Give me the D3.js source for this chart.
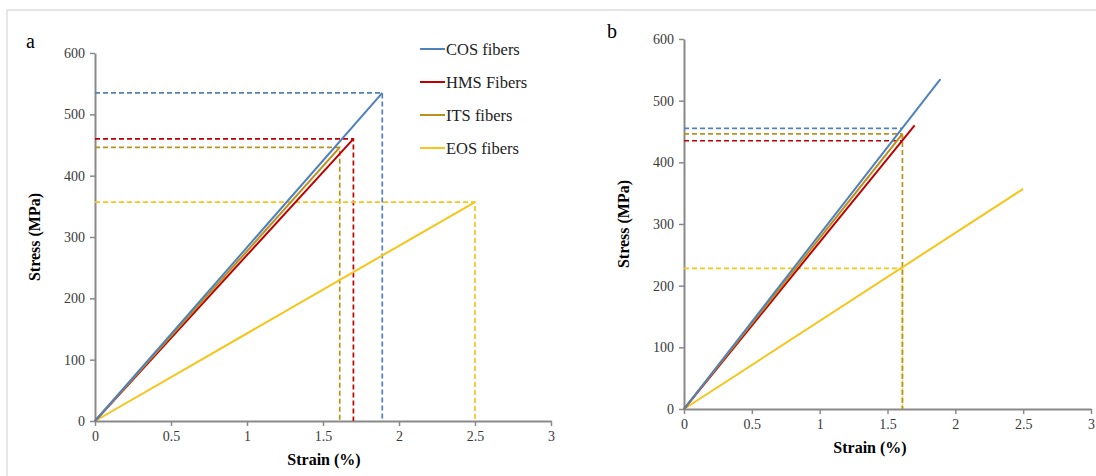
<!DOCTYPE html>
<html>
<head>
<meta charset="utf-8">
<script src="https://cdn.jsdelivr.net/npm/d3@7"></script>
<style>
    body { margin: 0; background: #fff; }
    svg text { font-family: "Liberation Serif", "Times New Roman", serif !important; }
</style>
</head>
<body>
<svg width="1096" height="476"></svg>
<script>
// data
const seriesNames = ['COS fibers', 'HMS Fibers', 'ITS fibers', 'EOS fibers'];
const failStrain = [1.89, 1.70, 1.61, 2.50];
const failStress = [535, 460, 446, 357];
const refStrainB = 1.61;
const refStressB = [455, 435, 446, 228];
const xTicks = [0, 0.5, 1, 1.5, 2, 2.5, 3];
const yTicks = [0, 100, 200, 300, 400, 500, 600];

const colors = ['#4f81bd', '#c00000', '#b8901c', '#f5c518'];
const AXIS = '#898989';
const FONT = '"Liberation Serif", "Times New Roman", serif';

const svg = d3.select('svg');
svg.append('rect').attr('width', 1096).attr('height', 476).attr('fill', '#fff');
// faint frame of the source image
svg.append('path').attr('d', 'M7,476V10H1096').attr('fill', 'none')
    .attr('stroke', '#e6e6e6').attr('stroke-width', 2);

const drawPanel = (opts) => {
    const { left, right, top, bottom, letter, letterX, letterY, xTitleX, yTitleX } = opts;
    const x = d3.scaleLinear().domain([0, 3]).range([left, right]);
    const y = d3.scaleLinear().domain([0, 600]).range([bottom, top]);
    const g = svg.append('g').attr('font-family', FONT);

    const xAxis = g.append('g').attr('transform', `translate(0,${bottom})`)
        .call(d3.axisBottom(x).tickValues(xTicks).tickSize(5).tickSizeOuter(0).tickFormat(d3.format('')));
    const yAxis = g.append('g').attr('transform', `translate(${left},0)`)
        .call(d3.axisLeft(y).tickValues(yTicks).tickSize(5).tickSizeOuter(0));
    [xAxis, yAxis].forEach(a => {
        a.attr('font-family', FONT).attr('font-size', 14);
        a.select('.domain').attr('stroke', AXIS).attr('stroke-width', 2);
        a.selectAll('.tick line').attr('stroke', AXIS).attr('stroke-width', 1.5);
        a.selectAll('.tick text').attr('fill', '#3a3a3a');
    });
    xAxis.selectAll('.tick text').attr('dy', '0.71em').attr('y', 10);
    yAxis.selectAll('.tick text').attr('x', -10);

    g.append('text').attr('x', xTitleX).attr('y', bottom + 44)
        .attr('text-anchor', 'middle').attr('font-weight', 'bold').attr('font-size', 16)
        .text('Strain (%)');
    g.append('text').attr('transform', `translate(${yTitleX},${(top + bottom) / 2}) rotate(-90)`)
        .attr('text-anchor', 'middle').attr('font-weight', 'bold').attr('font-size', 16)
        .text('Stress (MPa)');
    g.append('text').attr('x', letterX).attr('y', letterY).attr('font-size', 20).text(letter);

    return { g, x, y };
};

const dashed = (g, color, pts, x, y) => {
    g.append('path')
        .attr('d', d3.line().x(d => x(d[0])).y(d => y(d[1]))(pts))
        .attr('fill', 'none').attr('stroke', color).attr('stroke-width', 1.7)
        .attr('stroke-dasharray', '5,3');
};

const curve = (g, i, x, y) => {
    g.append('path')
        .attr('d', d3.line().x(d => x(d[0])).y(d => y(d[1]))([[0, 0], [failStrain[i], failStress[i]]]))
        .attr('fill', 'none').attr('stroke', colors[i]).attr('stroke-width', 2);
};

// panel a
const pa = drawPanel({ left: 95, right: 551, top: 53, bottom: 421, letter: 'a', letterX: 26, letterY: 48, xTitleX: 324, yTitleX: 40 });
seriesNames.forEach((s, i) => {
    dashed(pa.g, colors[i], [[0, failStress[i]], [failStrain[i], failStress[i]], [failStrain[i], 0]], pa.x, pa.y);
});
[3, 1, 2, 0].forEach(i => curve(pa.g, i, pa.x, pa.y));

const legend = pa.g.append('g').selectAll('g').data(seriesNames).join('g')
    .attr('transform', (d, i) => `translate(420,${49 + i * 33})`);
legend.append('line').attr('x1', 0).attr('x2', 25)
    .attr('stroke', (d, i) => colors[i]).attr('stroke-width', 2);
legend.append('text').attr('x', 26).attr('dy', '0.35em').attr('font-size', 16.5)
    .attr('fill', '#222').text(d => d);

// panel b
const pb = drawPanel({ left: 684, right: 1091, top: 39, bottom: 409, letter: 'b', letterX: 607, letterY: 38, xTitleX: 870, yTitleX: 629 });
seriesNames.forEach((s, i) => {
    dashed(pb.g, colors[i], [[0, refStressB[i]], [refStrainB, refStressB[i]]], pb.x, pb.y);
});
dashed(pb.g, colors[3], [[refStrainB, refStressB[3]], [refStrainB, 0]], pb.x, pb.y);
dashed(pb.g, colors[2], [[refStrainB, refStressB[2]], [refStrainB, 0]], pb.x, pb.y);
[3, 1, 2, 0].forEach(i => curve(pb.g, i, pb.x, pb.y));
</script>
</body>
</html>
